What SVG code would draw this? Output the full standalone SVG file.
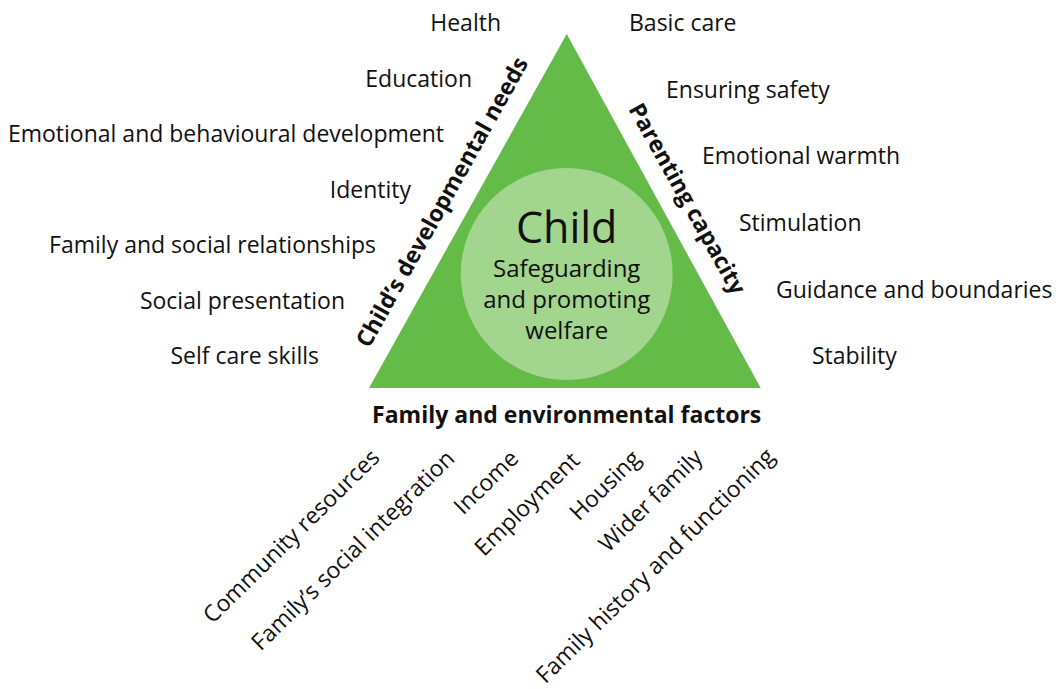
<svg xmlns="http://www.w3.org/2000/svg" width="1062" height="689" viewBox="0 0 1062 689">
<style>
.lbl{font-family:"Open Sans","Noto Sans","Liberation Sans",sans-serif;font-size:23px;fill:#111}
.side{font-family:"Open Sans","Noto Sans","Liberation Sans",sans-serif;font-size:23px;font-weight:bold;fill:#111}
.ctr{font-family:"Open Sans","Noto Sans","Liberation Sans",sans-serif;fill:#111;text-anchor:middle}
.l{text-anchor:end}
</style>
<rect width="1062" height="689" fill="#ffffff"/>
<g id="triangle">
<polygon points="566.7,34 369,388 760.7,388" fill="#65bb47"/>
</g>
<g id="child">
<circle cx="566.7" cy="274" r="106" fill="#a2d58e"/>
<text class="ctr" x="566.7" y="243" font-size="43">Child</text>
<text class="ctr" x="566.7" y="277" font-size="24">Safeguarding</text>
<text class="ctr" x="566.7" y="308" font-size="24">and promoting</text>
<text class="ctr" x="566.7" y="339" font-size="24">welfare</text>
</g>
<g id="side-labels">
<text class="side" transform="translate(369,349) rotate(-60.8)" font-size="23.5">Child’s developmental needs</text>
<text class="side" transform="translate(628,109) rotate(60.8)">Parenting capacity</text>
<text class="side" x="566.7" y="423" text-anchor="middle">Family and environmental factors</text>
</g>
<g id="developmental-needs">
<text class="lbl l" x="501" y="31">Health</text>
<text class="lbl l" x="472" y="86.5">Education</text>
<text class="lbl l" x="444" y="142">Emotional and behavioural development</text>
<text class="lbl l" x="411" y="197.5">Identity</text>
<text class="lbl l" x="376" y="253">Family and social relationships</text>
<text class="lbl l" x="345" y="308.5">Social presentation</text>
<text class="lbl l" x="319" y="364">Self care skills</text>
</g>
<g id="parenting-capacity">
<text class="lbl" x="629" y="31">Basic care</text>
<text class="lbl" x="666" y="97.7">Ensuring safety</text>
<text class="lbl" x="702" y="164.3">Emotional warmth</text>
<text class="lbl" x="739" y="231">Stimulation</text>
<text class="lbl" x="776" y="297.7">Guidance and boundaries</text>
<text class="lbl" x="812" y="364.3">Stability</text>
</g>
<g id="family-factors">
<text class="lbl l" transform="translate(381,459) rotate(-44.5)">Community resources</text>
<text class="lbl l" transform="translate(456,460) rotate(-44.5)">Family’s social integration</text>
<text class="lbl l" transform="translate(520,460) rotate(-44.5)">Income</text>
<text class="lbl l" transform="translate(581,462) rotate(-44.5)">Employment</text>
<text class="lbl l" transform="translate(642,460) rotate(-44.5)">Housing</text>
<text class="lbl l" transform="translate(704,459) rotate(-44.5)">Wider family</text>
<text class="lbl l" transform="translate(776,458) rotate(-44.5)">Family history and functioning</text>
</g>
</svg>
